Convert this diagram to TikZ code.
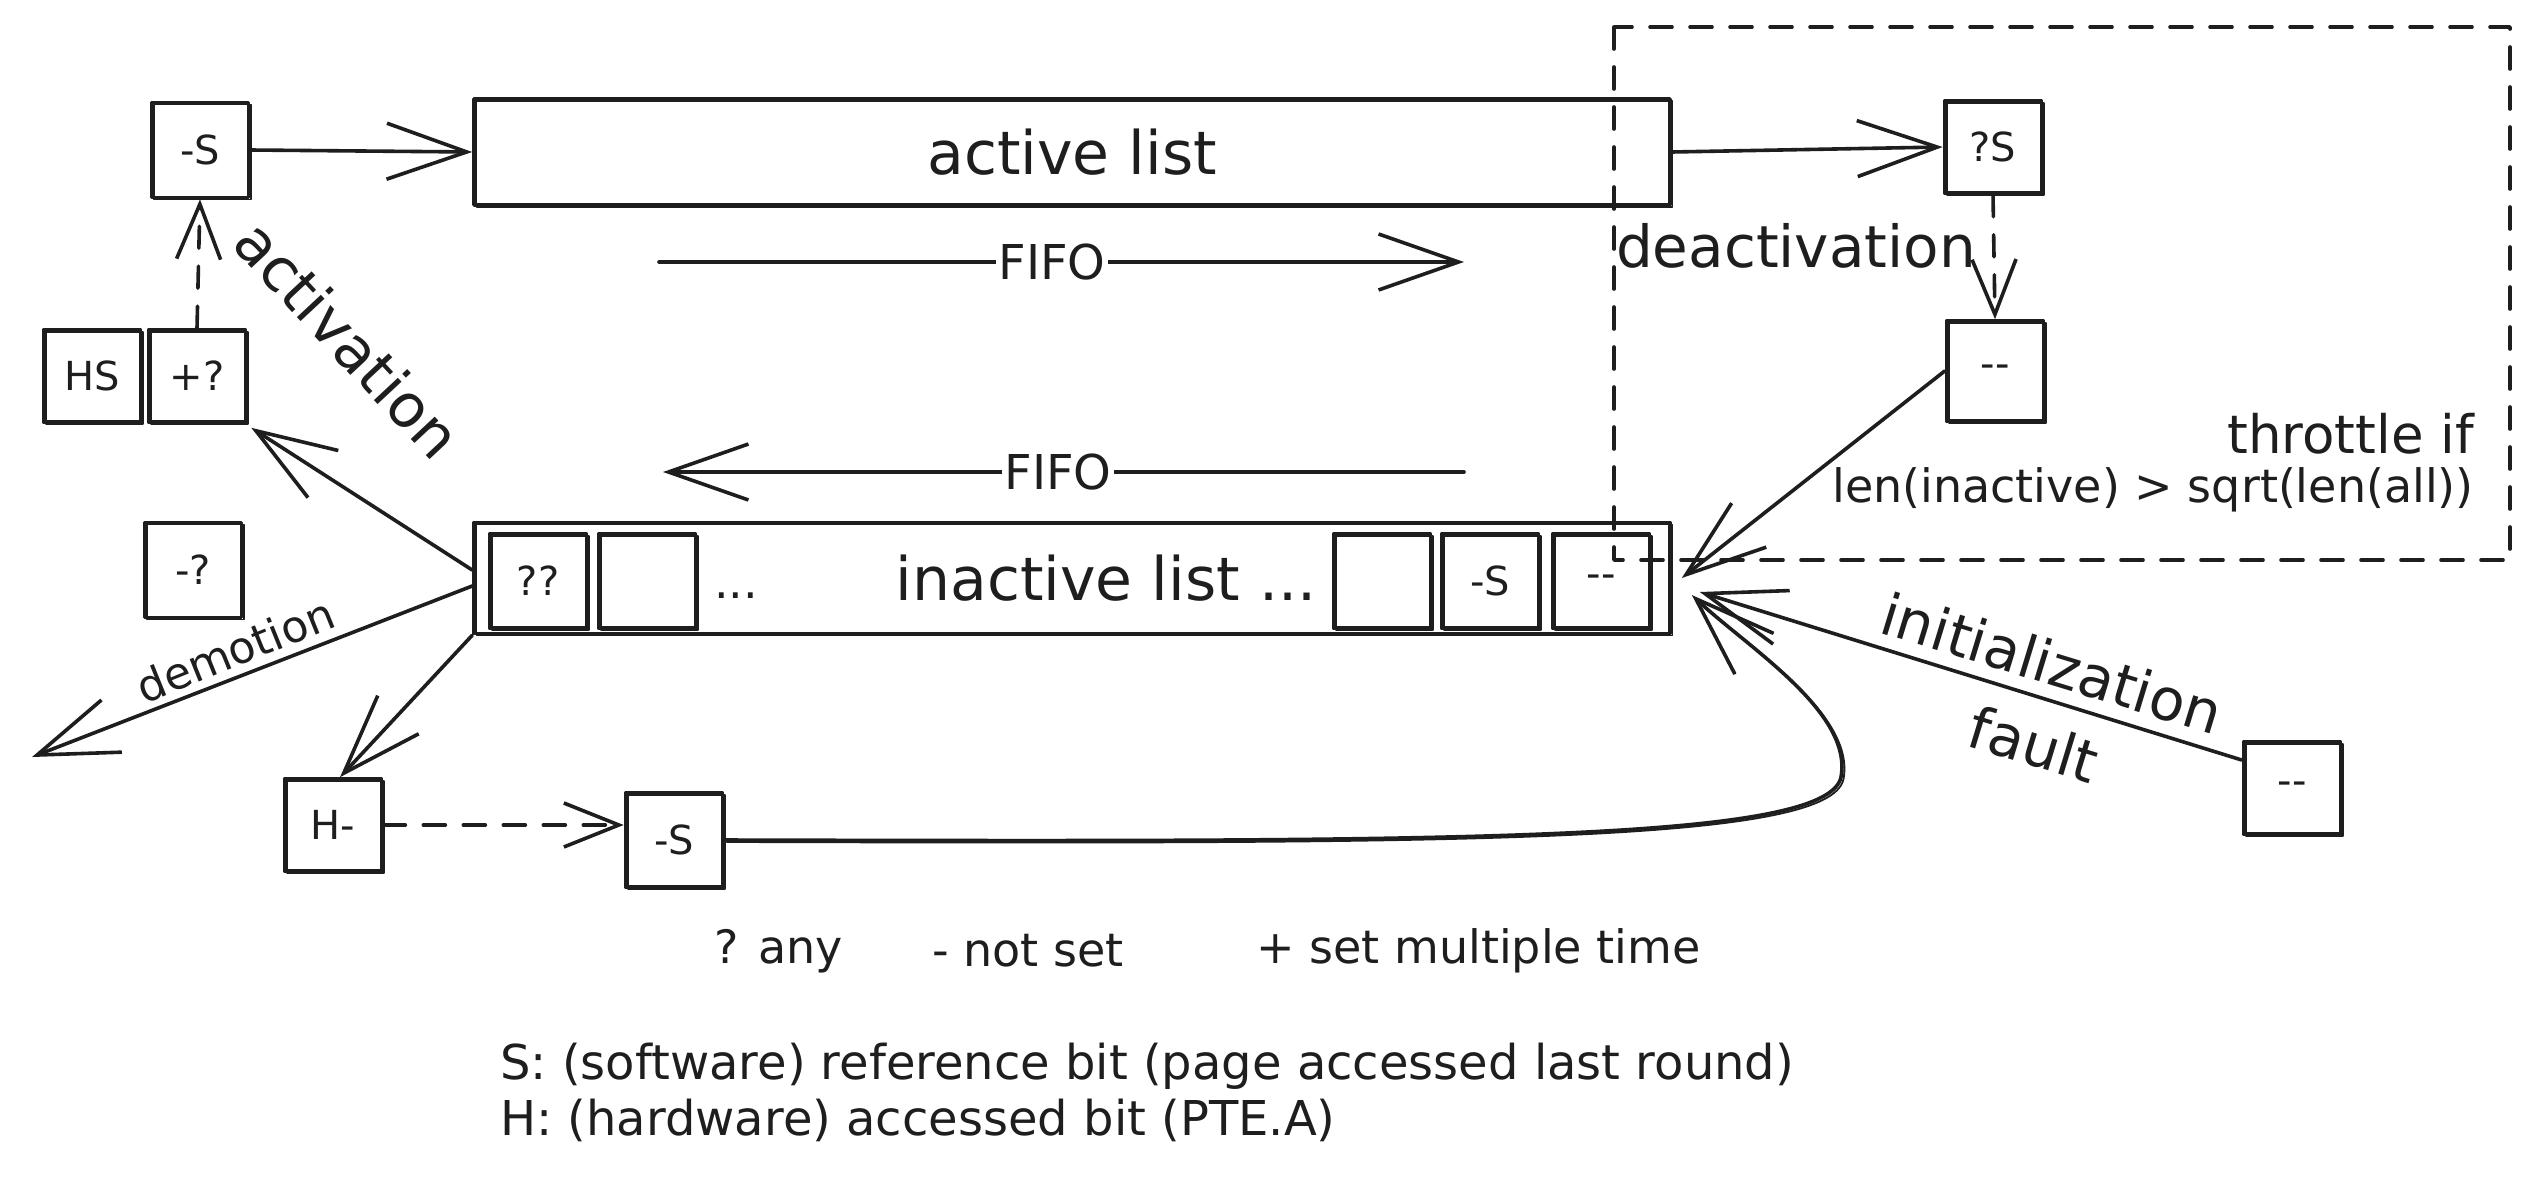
\documentclass[tikz,border=0pt]{standalone}
\usepackage{fontspec}
\setmainfont{DejaVu Sans}
\usetikzlibrary{arrows.meta}
\definecolor{ink}{HTML}{1E1E1E}
\newcommand\fs[1]{\fontsize{#1pt}{#1pt}\selectfont}
\begin{document}
\begin{tikzpicture}[x=1pt,y=-1pt, line join=round, line cap=round,
  ln/.style={line width=3.6pt, draw=ink},
  sk/.style={postaction={draw=ink, line width=1.8pt, transform canvas={xshift=2.5pt,yshift=-2pt}}},
  box/.style={ln, sk, minimum width=97pt, minimum height=92pt, inner sep=0pt, font=\fs{40}, text=ink},
  listbox/.style={ln, sk, minimum width=1196pt, inner sep=0pt, text=ink},
  arr/.style={ln, -{Straight Barb[length=80pt,width=56pt]}},
  sarr/.style={ln, -{Straight Barb[length=55pt,width=44pt]}},
  dsh/.style={dash pattern=on 22pt off 18pt},
  lbl/.style={inner sep=2pt, text=ink}]
\fill[white] (0,0) rectangle (2537,1186);
\useasboundingbox (0,0) rectangle (2537,1186);

% dashed throttle region
\draw[ln, dsh] (1614,27) rectangle (2510,560);

% lists
\node[listbox, minimum height=106pt, font=\fs{60}] (active) at (1072,152) {active list};
\node[listbox, minimum height=111pt] (inactive) at (1072,578) {};
\node[box, minimum height=94pt] (c1) at (538,581) {??};
\node[box, minimum height=94pt] (c2) at (647,581) {};
\node[lbl, font=\fs{46}, anchor=base] (dots) at (736,598) {...};
\node[lbl, font=\fs{60}, anchor=base] (itxt) at (1106,600) {inactive list ...};
\node[box, minimum height=94pt] (c3) at (1382,581) {};
\node[box, minimum height=94pt] (c4) at (1490,581) {-S};
\node[box, minimum height=94pt] (c5) at (1601,581) {-{}-};

% small boxes
\node[box, minimum height=95pt] (topS) at (200,150) {-S};
\node[box] (hs) at (92,376) {HS};
\node[box] (plusq) at (197,376) {+?};
\node[box, minimum height=95pt] (minq) at (193,570) {-?};
\node[box] (qS) at (1993,147) {?S};
\node[box, minimum height=100pt] (dm) at (1995,371) {-{}-};
\node[box] (ib) at (2292,788) {-{}-};
\node[box] (Hm) at (333,825) {H-};
\node[box, minimum height=94pt] (botS) at (674,840) {-S};

% FIFO arrows
\coordinate (f1s) at (659,262);
\coordinate (f1e) at (1464,262);
\coordinate (f2s) at (1464,472);
\coordinate (f2e) at (663,472);
\draw[arr] (f1s) -- (f1e);
\node[lbl, fill=white, font=\fs{48}] (fifo1) at (1052,262) {FIFO};
\draw[arr] (f2s) -- (f2e);
\node[lbl, fill=white, font=\fs{48}] (fifo2) at (1058,472) {FIFO};

% connectors
\draw[arr] (topS.east) -- (active.west);
\draw[arr] (active.east) -- (qS.west);
\draw[sarr, dsh] (qS.south) -- (dm.north);
\draw[arr] (dm.west) -- ([xshift=10pt]inactive.east);
\draw[sarr, dsh] (plusq.north) -- (topS.south);
\draw[arr] ([yshift=8pt]inactive.west) -- ([xshift=4pt,yshift=-4pt]plusq.south east);
\coordinate (demEnd) at (32,757);
\draw[arr] ([yshift=-8pt]inactive.west) -- (demEnd);
\draw[arr] (inactive.south west) -- ([xshift=7pt]Hm.north);
\draw[sarr, dsh] (Hm.east) -- (Hm.east -| botS.west);
\draw[arr, sk] (botS.east) .. controls (1456,842) and (1828,842) .. (1841,777)
   .. controls (1853,712) and (1747,647) .. ([xshift=20pt,yshift=-17pt]inactive.east);
\draw[arr] ([yshift=28pt]ib.west) -- ([xshift=28pt,yshift=-14pt]inactive.east);

% labels
\node[lbl, font=\fs{58}] (deact) at (1796,246) {deactivation};
\node[lbl, font=\fs{53}, anchor=east] (thr1) at (2476,434) {throttle if};
\node[lbl, font=\fs{46}, anchor=east] (thr2) at (2476,490) {len(inactive) > sqrt(len(all))};
\node[lbl, font=\fs{60}, rotate=-47] (act) at (348,339) {activation};
\node[lbl, font=\fs{44}, rotate=22] (dem) at (235,650) {demotion};
\node[lbl, font=\fs{58}, rotate=-17] (init) at (2052,663) {initialization};
\node[lbl, font=\fs{58}, rotate=-17] (fault) at (2034,744) {fault};

% legend
\node[lbl, font=\fs{46}, anchor=west] (lg1) at (712,951) {? any};
\node[lbl, font=\fs{46}, anchor=west] (lg2) at (930,951) {- not set};
\node[lbl, font=\fs{46}, anchor=west] (lg3) at (1254,951) {+ set multiple time};
\node[lbl, font=\fs{48}, anchor=west] (lg4) at (498,1066) {S: (software) reference bit (page accessed last round)};
\node[lbl, font=\fs{48}, anchor=west] (lg5) at (498,1120) {H: (hardware) accessed bit (PTE.A)};
\end{tikzpicture}
\end{document}
